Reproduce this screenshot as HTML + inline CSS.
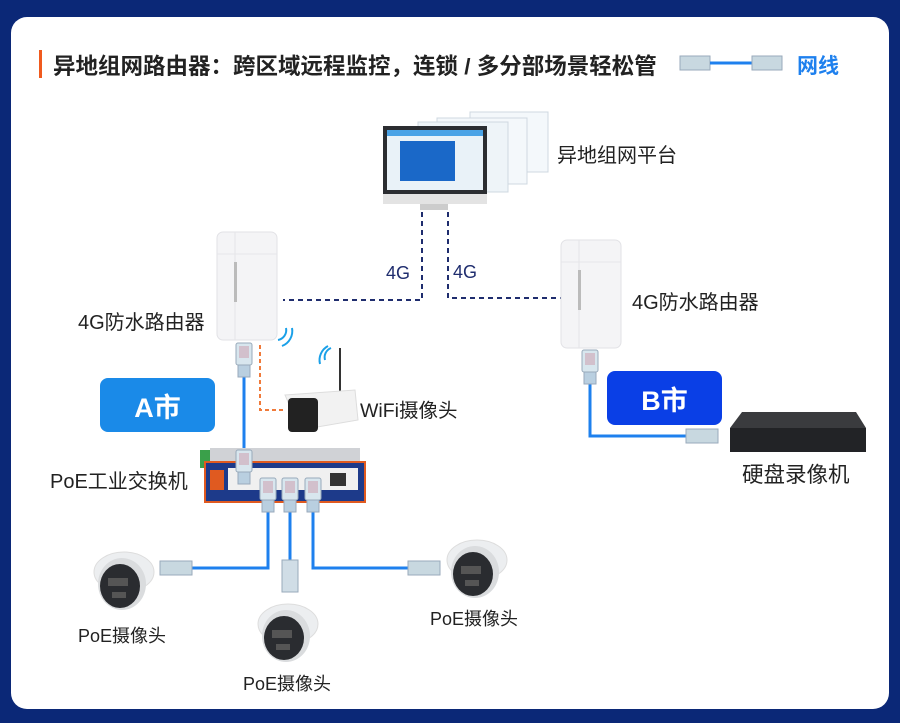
<!DOCTYPE html>
<html><head><meta charset="utf-8"><style>
html,body{margin:0;padding:0;}
body{width:900px;height:723px;background:#0b2877;position:relative;overflow:hidden;font-family:"Liberation Sans","Noto Sans CJK SC",sans-serif;}
.card{position:absolute;left:11px;top:17px;width:878px;height:692px;background:#fff;border-radius:16px;}
.t{position:absolute;white-space:nowrap;color:#222;}
</style></head><body>
<div class="card"></div>
<svg style="position:absolute;left:0;top:0" width="900" height="723" xmlns="http://www.w3.org/2000/svg">
<defs>
<g id="rj">
<rect x="-8" y="0" width="16" height="22" rx="2" fill="#d8e6ee" stroke="#9ab" stroke-width="1"/>
<rect x="-5" y="3" width="10" height="12" fill="#c9a" opacity="0.5"/>
<rect x="-6" y="22" width="12" height="12" fill="#b9cfe0" stroke="#9ab"/>
</g>
<g id="router">
<rect x="0" y="0" width="60" height="108" rx="6" fill="#f4f4f6" stroke="#e2e2e6"/>
<line x1="18" y1="0" x2="18" y2="108" stroke="#e4e4e8"/>
<line x1="0" y1="22" x2="60" y2="22" stroke="#e6e6ea"/>
<rect x="17" y="30" width="3" height="40" fill="#bbb"/>
</g>
<g id="dome">
<ellipse cx="0" cy="-6" rx="30" ry="20" fill="#eceef0" stroke="#ddd"/>
<ellipse cx="-2" cy="6" rx="24" ry="26" fill="#dadcde"/>
<ellipse cx="-4" cy="8" rx="20" ry="22" fill="#2a2c30"/>
<rect x="-16" y="0" width="20" height="8" fill="#555"/>
<rect x="-12" y="14" width="14" height="6" fill="#555"/>
</g>
</defs>
<rect x="39" y="50" width="3" height="28" fill="#f05a1e"/>
<rect x="680" y="56" width="30" height="14" fill="#c8d8e0" stroke="#9ab"/>
<line x1="710" y1="63" x2="752" y2="63" stroke="#1e80ee" stroke-width="3"/>
<rect x="752" y="56" width="30" height="14" fill="#c8d8e0" stroke="#9ab"/>
<rect x="470" y="112" width="78" height="60" fill="#f4f8fb" stroke="#cfd8e0"/>
<rect x="437" y="118" width="90" height="66" fill="#f4f8fb" stroke="#cfd8e0"/>
<rect x="418" y="122" width="90" height="70" fill="#eef4f8" stroke="#cfd8e0"/>
<rect x="383" y="126" width="104" height="68" fill="#2b2d31"/>
<rect x="387" y="130" width="96" height="60" fill="#e9f2f8"/>
<rect x="387" y="130" width="96" height="6" fill="#4aa3e6"/>
<rect x="400" y="141" width="55" height="40" fill="#1a68c8"/>
<rect x="383" y="194" width="104" height="10" fill="#e3e3e3"/>
<rect x="420" y="204" width="28" height="6" fill="#ccc"/>
<path d="M422 212 V300 H283" fill="none" stroke="#1f2d6e" stroke-width="2" stroke-dasharray="5,4"/>
<path d="M448 212 V298 H562" fill="none" stroke="#1f2d6e" stroke-width="2" stroke-dasharray="5,4"/>
<use href="#router" x="217" y="232"/>
<use href="#router" x="561" y="240"/>
<path d="M260 345 V410 H286" fill="none" stroke="#f07a3a" stroke-width="2" stroke-dasharray="4,3"/>
<path d="M278 340 a10 10 0 0 0 8 -12 M282 346 a16 16 0 0 0 10 -18" fill="none" stroke="#1aa0e8" stroke-width="2"/>
<line x1="244" y1="376" x2="244" y2="452" stroke="#1e80ee" stroke-width="3"/>
<use href="#rj" x="244" y="343"/>
<line x1="340" y1="348" x2="340" y2="392" stroke="#333" stroke-width="2"/>
<path d="M325 360 a10 10 0 0 1 6 -12 M320 364 a16 16 0 0 1 8 -18" fill="none" stroke="#1aa0e8" stroke-width="2"/>
<path d="M285 395 L355 390 L358 420 L300 430 Z" fill="#f2f2f2" stroke="#ddd"/>
<rect x="288" y="398" width="30" height="34" rx="4" fill="#222"/>
<rect x="200" y="450" width="10" height="18" fill="#3aa04a"/>
<rect x="210" y="448" width="150" height="16" fill="#d0d2d6"/>
<rect x="205" y="462" width="160" height="40" fill="#1d3a8a" stroke="#e05a20" stroke-width="2"/>
<rect x="228" y="468" width="130" height="22" fill="#f0f0f0"/>
<rect x="210" y="470" width="14" height="20" fill="#e05a20"/>
<rect x="330" y="473" width="16" height="13" fill="#333"/>
<use href="#rj" x="244" y="450"/>
<path d="M268 508 V568 H192" fill="none" stroke="#1e80ee" stroke-width="3"/>
<path d="M290 508 V562" fill="none" stroke="#1e80ee" stroke-width="3"/>
<path d="M313 508 V568 H410" fill="none" stroke="#1e80ee" stroke-width="3"/>
<use href="#rj" x="268" y="478"/>
<use href="#rj" x="290" y="478"/>
<use href="#rj" x="313" y="478"/>
<rect x="160" y="561" width="32" height="14" fill="#c8d8e0" stroke="#9ab"/>
<rect x="408" y="561" width="32" height="14" fill="#c8d8e0" stroke="#9ab"/>
<rect x="282" y="560" width="16" height="32" fill="#d0dde6" stroke="#9ab"/>
<use href="#dome" x="124" y="578"/>
<use href="#dome" x="288" y="630"/>
<use href="#dome" x="477" y="566"/>
<path d="M590 380 V436 H688" fill="none" stroke="#1e80ee" stroke-width="3"/>
<use href="#rj" x="590" y="350"/>
<rect x="686" y="429" width="32" height="14" fill="#c8d8e0" stroke="#9ab"/>
<path d="M742 412 L856 412 L866 428 L730 428 Z" fill="#3a3b3e"/>
<rect x="730" y="428" width="136" height="24" fill="#222326"/>
<rect x="100" y="378" width="115" height="54" rx="8" fill="#1a8ae8"/>
<rect x="607" y="371" width="115" height="54" rx="8" fill="#0a3fe6"/>
</svg>
<div class="t" style="left:53px;top:49px;font-size:22.5px;font-weight:bold;color:#222">异地组网路由器：跨区域远程监控，连锁 / 多分部场景轻松管</div>
<div class="t" style="left:797px;top:50px;font-size:21px;font-weight:bold;color:#1e80ee">网线</div>
<div class="t" style="left:557px;top:139px;font-size:20px">异地组网平台</div>
<div class="t" style="left:386px;top:263px;font-size:18px;color:#1f2d6e">4G</div>
<div class="t" style="left:453px;top:262px;font-size:18px;color:#1f2d6e">4G</div>
<div class="t" style="left:78px;top:306px;font-size:20px">4G防水路由器</div>
<div class="t" style="left:632px;top:286px;font-size:20px">4G防水路由器</div>
<div class="t" style="left:100px;top:386px;width:115px;text-align:center;font-size:27px;font-weight:bold;color:#fff">A市</div>
<div class="t" style="left:607px;top:379px;width:115px;text-align:center;font-size:27px;font-weight:bold;color:#fff">B市</div>
<div class="t" style="left:360px;top:394px;font-size:19.5px">WiFi摄像头</div>
<div class="t" style="left:50px;top:465px;font-size:20px">PoE工业交换机</div>
<div class="t" style="left:742px;top:458px;font-size:21.5px">硬盘录像机</div>
<div class="t" style="left:78px;top:622px;font-size:18px">PoE摄像头</div>
<div class="t" style="left:243px;top:670px;font-size:18px">PoE摄像头</div>
<div class="t" style="left:430px;top:605px;font-size:18px">PoE摄像头</div>
</body></html>
